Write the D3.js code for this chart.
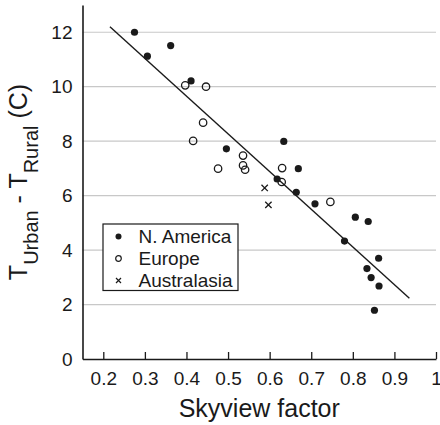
<!DOCTYPE html>
<html>
<head>
<meta charset="utf-8">
<script src="https://cdn.jsdelivr.net/npm/d3@7"></script>
<style>
  body { margin: 0; background: #fff; }
  svg { display: block; font-family: "Liberation Sans", Arial, Helvetica, sans-serif; }
</style>
</head>
<body>
<div id="chart"></div>
<script>
// N. America (filled dots)
const naX = [0.275, 0.362, 0.306, 0.411, 0.496, 0.634, 0.669, 0.618, 0.664, 0.709, 0.806, 0.837, 0.780, 0.862, 0.834, 0.844, 0.863, 0.852]
const naY = [12.0, 11.51, 11.12, 10.21, 7.72, 7.99, 6.99, 6.61, 6.12, 5.70, 5.21, 5.05, 4.33, 3.70, 3.32, 2.99, 2.68, 1.79]
// Europe (open circles)
const euX = [0.397, 0.447, 0.440, 0.416, 0.476, 0.536, 0.536, 0.541, 0.630, 0.629, 0.746]
const euY = [10.05, 10.0, 8.68, 8.01, 6.99, 7.47, 7.11, 6.95, 7.01, 6.50, 5.77]
// Australasia (crosses)
const auX = [0.588, 0.597]
const auY = [6.28, 5.66]
// fitted line end points
const fitX = [0.216, 0.936]
const fitY = [12.2, 2.23]

const regions = ["N. America", "Europe", "Australasia"]
const xTicks = [0.2, 0.3, 0.4, 0.5, 0.6, 0.7, 0.8, 0.9, 1]
const yTicks = [0, 2, 4, 6, 8, 10, 12]
const xTitle = "Skyview factor"

const width = 440
const height = 425
const margin = [5, 4, 66, 82.5] // top right bottom left
const ink = "#1a1a1a"

const x = d3.scaleLinear().domain([0.15, 1]).range([margin[3], width - margin[1]])
const y = d3.scaleLinear().domain([0, 13]).range([height - margin[2], margin[0]])

const svg = d3.create("svg")
  .attr("width", width)
  .attr("height", height)
  .attr("viewBox", [0, 0, width, height])

// grid lines
svg.append("g")
  .selectAll("line")
  .data(yTicks.filter(d => d > 0))
  .join("line")
  .attr("x1", x(0.15))
  .attr("x2", x(1))
  .attr("y1", d => y(d))
  .attr("y2", d => y(d))
  .attr("stroke", "#c8c8c8")
  .attr("stroke-width", 1.2)

// y axis
svg.append("g")
  .attr("transform", `translate(${margin[3]},0)`)
  .call(d3.axisLeft(y).tickValues(yTicks).tickSize(0).tickPadding(10).tickFormat(d3.format("d")))
  .call(g => g.select(".domain").attr("stroke", ink).attr("stroke-width", 1.6))
  .call(g => g.selectAll(".tick text").attr("fill", ink).attr("font-size", 19).attr("font-family", null))

// x axis, ticks pointing up
svg.append("g")
  .attr("transform", `translate(0,${y(0)})`)
  .call(d3.axisBottom(x).tickValues(xTicks).tickSize(-7).tickSizeOuter(0).tickFormat(d => String(d)))
  .call(g => g.select(".domain").attr("stroke", ink).attr("stroke-width", 1.6))
  .call(g => g.selectAll(".tick line").attr("stroke", ink).attr("stroke-width", 1.3))
  .call(g => g.selectAll(".tick text")
    .attr("fill", ink).attr("font-size", 19).attr("font-family", null)
    .attr("y", 26).attr("dy", 0))

// fit line
svg.append("line")
  .attr("x1", x(fitX[0])).attr("y1", y(fitY[0]))
  .attr("x2", x(fitX[1])).attr("y2", y(fitY[1]))
  .attr("stroke", ink)
  .attr("stroke-width", 1.4)

const pts = svg.append("g")
pts.selectAll(".na")
  .data(d3.range(naX.length))
  .join("circle")
  .attr("cx", i => x(naX[i]))
  .attr("cy", i => y(naY[i]))
  .attr("r", 3.6)
  .attr("fill", ink)

pts.selectAll(".eu")
  .data(d3.range(euX.length))
  .join("circle")
  .attr("cx", i => x(euX[i]))
  .attr("cy", i => y(euY[i]))
  .attr("r", 3.7)
  .attr("fill", "none")
  .attr("stroke", ink)
  .attr("stroke-width", 1.3)

const cross = d3.symbol().type(d3.symbolX).size(28)
pts.selectAll(".au")
  .data(d3.range(auX.length))
  .join("path")
  .attr("transform", i => `translate(${x(auX[i])},${y(auY[i])})`)
  .attr("d", cross)
  .attr("fill", "none")
  .attr("stroke", ink)
  .attr("stroke-width", 1.3)

// legend
const lg = svg.append("g").attr("transform", "translate(103,224)")
lg.append("rect")
  .attr("width", 135)
  .attr("height", 66.5)
  .attr("fill", "#fff")
  .attr("stroke", ink)
  .attr("stroke-width", 1.2)
const row = lg.selectAll("g")
  .data(regions)
  .join("g")
  .attr("transform", (d, i) => `translate(0,${12.5 + i * 22})`)
row.append("text")
  .attr("x", 35.5)
  .attr("y", 6.8)
  .attr("font-size", 19)
  .attr("fill", ink)
  .text(d => d)
row.filter((d, i) => i === 0).append("circle").attr("cx", 15.5).attr("r", 3).attr("fill", ink)
row.filter((d, i) => i === 1).append("circle").attr("cx", 15.5).attr("r", 2.8)
  .attr("fill", "none").attr("stroke", ink).attr("stroke-width", 1.2)
row.filter((d, i) => i === 2).append("path").attr("transform", "translate(15.5,0)")
  .attr("d", d3.symbol().type(d3.symbolX).size(18))
  .attr("fill", "none").attr("stroke", ink).attr("stroke-width", 1.2)

// axis titles
svg.append("text")
  .attr("x", (x(0.15) + x(1)) / 2)
  .attr("y", 417)
  .attr("text-anchor", "middle")
  .attr("font-size", 25)
  .attr("fill", ink)
  .text(xTitle)

const yt = svg.append("text")
  .attr("transform", `translate(27,${(y(0) + y(13)) / 2}) rotate(-90)`)
  .attr("text-anchor", "middle")
  .attr("font-size", 25)
  .attr("fill", ink)
yt.append("tspan").text("T")
yt.append("tspan").attr("font-size", 20).attr("dy", 11).text("Urban")
yt.append("tspan").attr("dy", -11).text(" - T")
yt.append("tspan").attr("font-size", 20).attr("dy", 11).text("Rural")
yt.append("tspan").attr("dy", -11).text(" (C)")

document.querySelector("#chart").append(svg.node())
</script>
</body>
</html>
